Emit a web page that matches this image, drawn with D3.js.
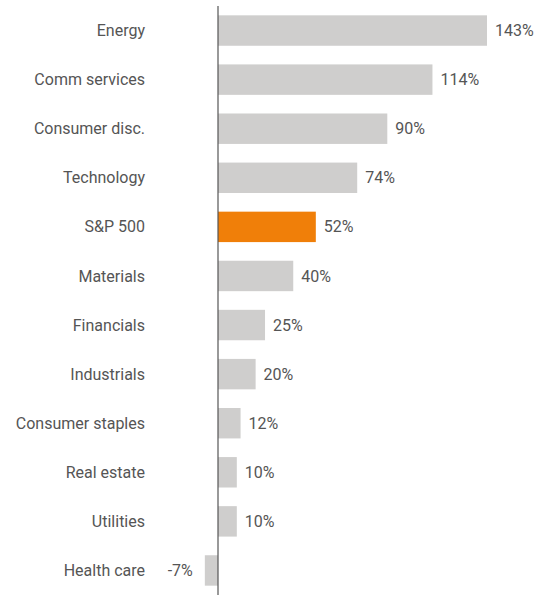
<!DOCTYPE html>
<html><head><meta charset="utf-8">
<script src="https://cdn.jsdelivr.net/npm/d3@7"></script>
<style>body{margin:0;background:#fff}</style></head>
<body><svg id="c" width="547" height="609"></svg>
<script>
const categories=["Energy","Comm services","Consumer disc.","Technology","S&P 500","Materials","Financials","Industrials","Consumer staples","Real estate","Utilities","Health care"];
const values=[143,114,90,74,52,40,25,20,12,10,10,-7];
const highlight="S&P 500";
const svg=d3.select("#c");
const x=d3.scaleLinear().domain([0,143]).range([218,487]);
const y=d3.scaleBand().domain(categories).range([6,595]).paddingInner(0.38).paddingOuter(0.19);
const g=svg.append("g").style("font-family","Roboto, 'Open Sans', sans-serif").style("font-size","16px");
g.selectAll("rect").data(categories).join("rect")
 .attr("x",(d,i)=>x(Math.min(0,values[i])))
 .attr("width",(d,i)=>Math.abs(x(values[i])-x(0)))
 .attr("y",d=>y(d)).attr("height",y.bandwidth())
 .attr("fill",d=>d===highlight?"#f07f09":"#cfcecd");
g.selectAll("text.cat").data(categories).join("text").attr("class","cat")
 .attr("x",145).attr("y",d=>y(d)+y.bandwidth()/2).attr("dy","0.35em")
 .attr("text-anchor","end").attr("fill","#555").text(d=>d);
g.selectAll("text.val").data(categories).join("text").attr("class","val")
 .attr("x",(d,i)=>values[i]<0?x(values[i])-12:x(values[i])+8)
 .attr("y",d=>y(d)+y.bandwidth()/2).attr("dy","0.35em")
 .attr("text-anchor",(d,i)=>values[i]<0?"end":"start").attr("fill","#555")
 .text((d,i)=>values[i]+"%");
svg.append("line").attr("x1",x(0)).attr("x2",x(0)).attr("y1",6).attr("y2",595).attr("stroke","#555").attr("stroke-width",1.2);
</script></body></html>
